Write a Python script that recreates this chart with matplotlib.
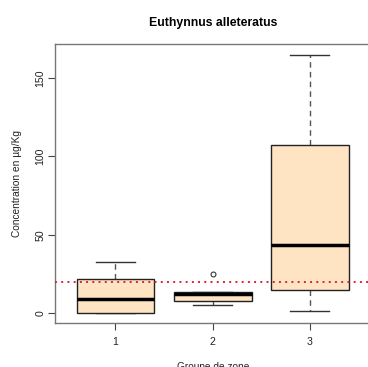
import matplotlib
matplotlib.use("Agg")
import matplotlib.pyplot as plt

plt.rcParams['font.family'] = ['Liberation Sans', 'DejaVu Sans']

groups = ["1", "2", "3"]
whislo = [0.0, 4.9, 1.1]
q1 = [0.0, 7.4, 14.6]
med = [8.7, 11.9, 43.5]
q3 = [21.9, 13.6, 107.5]
whishi = [32.7, 13.6, 165.0]
fliers = [[], [25.0], []]
threshold = 20.0
yticks = [0, 50, 100, 150]

fig = plt.figure(figsize=(3.68, 3.67), dpi=100)
ax = fig.add_axes([0.150, 0.119, 0.856, 0.760])

stats = []
for i in range(len(groups)):
    stats.append(dict(label=groups[i], whislo=whislo[i], q1=q1[i], med=med[i],
                      q3=q3[i], whishi=whishi[i], fliers=fliers[i]))

ax.bxp(stats, positions=[1, 2, 3], widths=0.8, patch_artist=True,
       boxprops=dict(facecolor='#FFE4C4', edgecolor='#222222', linewidth=1.0, zorder=3),
       medianprops=dict(color='black', linewidth=2.5, zorder=4),
       whiskerprops=dict(color='#555555', linestyle=(0, (4, 3)), linewidth=1.0, zorder=2),
       capprops=dict(color='#333333', linewidth=1.0, zorder=2),
       flierprops=dict(marker='o', markersize=3.5, markerfacecolor='none',
                       markeredgecolor='#333333', markeredgewidth=0.8),
       capwidths=0.4)

ax.axhline(threshold, color='#dd2233', linestyle=(0, (1, 2.2)), linewidth=1.4, zorder=5)

ax.set_xlim(0.38, 3.62)
ax.set_ylim(-6.6, 171.6)
ax.set_yticks(yticks)
ax.set_yticklabels([str(t) for t in yticks], rotation=90, va='center')
ax.set_xticks([1, 2, 3])
ax.set_xticklabels(groups)
ax.tick_params(axis='both', length=5, width=0.8, color='#444444', labelsize=7.6, labelcolor='#222222')
ax.tick_params(axis='x', pad=5)
ax.tick_params(axis='y', pad=2)
for s in ax.spines.values():
    s.set_color('#777777')
    s.set_linewidth(1.0)

ax.set_title("Euthynnus alleteratus", fontsize=8.8, fontweight='bold', pad=13)
ax.set_ylabel("Concentration en µg/Kg", fontsize=7.3, labelpad=10, color='#222222')
ax.set_xlabel("Groupe de zone", fontsize=7.3, labelpad=11, color='#222222')

fig.savefig("out.png", dpi=100)
